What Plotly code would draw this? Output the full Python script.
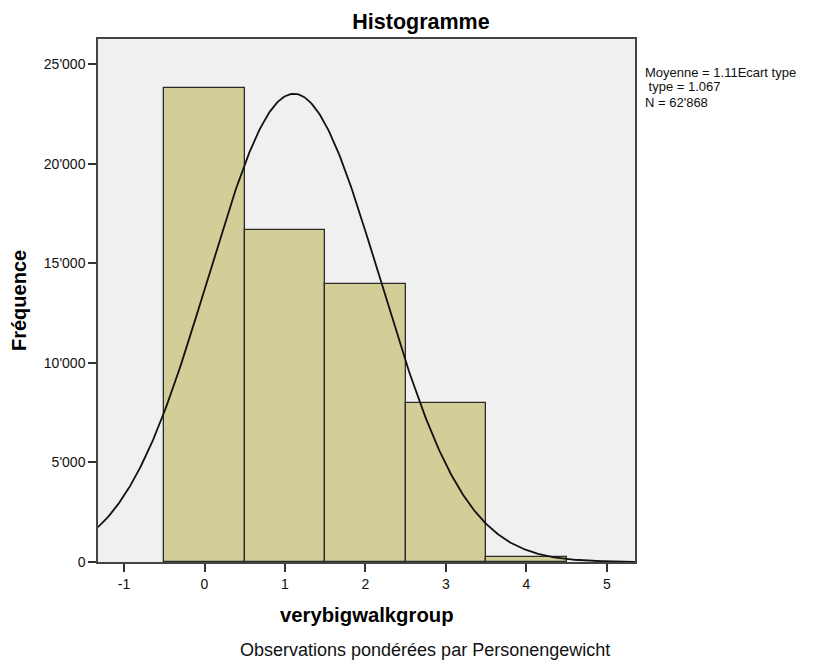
import numpy as np
import plotly.graph_objects as go

# ---- data ----
categories = [0, 1, 2, 3, 4]
frequencies = [23820, 16680, 13980, 7990, 250]
mean_val = 1.11
std_val = 1.067
n_total = 62868
x_ticks = [-1, 0, 1, 2, 3, 4, 5]
x_tick_labels = ["-1", "0", "1", "2", "3", "4", "5"]
y_ticks = [0, 5000, 10000, 15000, 20000, 25000]
x_range = [-1.323, 5.348]
y_range = [0, 26255]
legend_lines = ["Moyenne = 1.11Ecart type", " type = 1.067", "N = 62'868"]

# ---- layout geometry (pixels) ----
W, H = 820, 666
L, R, T, B = 98, 635, 39, 562

def px(X):
    return (X - L) / (R - L)

def py(Y):
    return (B - Y) / (B - T)

FONT = "Liberation Sans, Arial, sans-serif"

fig = go.Figure()
fig.add_trace(go.Bar(
    x=categories, y=frequencies, width=1.0,
    marker=dict(color="#d3ce97", line=dict(color="#2b2b2b", width=1.3)),
    hoverinfo="x+y", showlegend=False,
))

# fitted normal curve (from reported mean / sd / N, bin width 1)
xc = np.linspace(x_range[0], x_range[1], 400)
yc = n_total * 1.0 / (std_val * np.sqrt(2 * np.pi)) * np.exp(-0.5 * ((xc - mean_val) / std_val) ** 2)
fig.add_trace(go.Scatter(x=xc, y=yc, mode="lines",
                         line=dict(color="#111111", width=1.8),
                         showlegend=False, hoverinfo="skip"))

fig.update_layout(
    width=W, height=H,
    margin=dict(l=L, r=W - R, t=T, b=H - B, pad=0),
    paper_bgcolor="white", plot_bgcolor="#f0f0f0",
    separators=".'",
    font=dict(family=FONT, size=14, color="#111"),
    bargap=0,
    title=dict(text="<b>Histogramme</b>", font=dict(family=FONT, size=21.5, color="#000"),
               xref="container", yref="container", x=421 / W, y=1 - 21 / H,
               xanchor="center", yanchor="middle"),
)
fig.update_xaxes(range=x_range, tickmode="array", tickvals=x_ticks, ticktext=x_tick_labels,
                 ticks="outside", ticklen=8, tickwidth=1.5, tickcolor="#333",
                 showline=True, linecolor="#444", linewidth=1.5, mirror=True,
                 showgrid=False, zeroline=False,
                 tickfont=dict(family=FONT, size=14, color="#111"))
fig.update_yaxes(range=y_range, tickmode="array", tickvals=y_ticks,
                 tickformat=",d",
                 ticks="outside", ticklen=8, tickwidth=1.5, tickcolor="#333",
                 showline=True, linecolor="#444", linewidth=1.5, mirror=True,
                 showgrid=False, zeroline=False,
                 tickfont=dict(family=FONT, size=14, color="#111"))

ann = [
    dict(text="<b>verybigwalkgroup</b>", x=px(367), y=py(615), size=20.3, xa="center", color="#000"),
    dict(text="Observations pondérées par Personengewicht", x=px(425), y=py(650), size=18, xa="center", color="#111"),
]
for i, line in enumerate(legend_lines):
    ann.append(dict(text=line.replace(" ", "&nbsp;") if line.startswith(" ") else line,
                    x=px(643), y=py(72 + 15 * i), size=13, xa="left", color="#111"))
for a in ann:
    fig.add_annotation(text=a["text"], xref="paper", yref="paper", x=a["x"], y=a["y"],
                       xanchor=a["xa"], yanchor="middle", showarrow=False, align="left",
                       font=dict(family=FONT, size=a["size"], color=a["color"]))
fig.add_annotation(text="<b>Fréquence</b>", xref="paper", yref="paper", x=px(19), y=py(301),
                   xanchor="center", yanchor="middle", textangle=-90, showarrow=False,
                   font=dict(family=FONT, size=20, color="#000"))

fig.write_html("out.html")
